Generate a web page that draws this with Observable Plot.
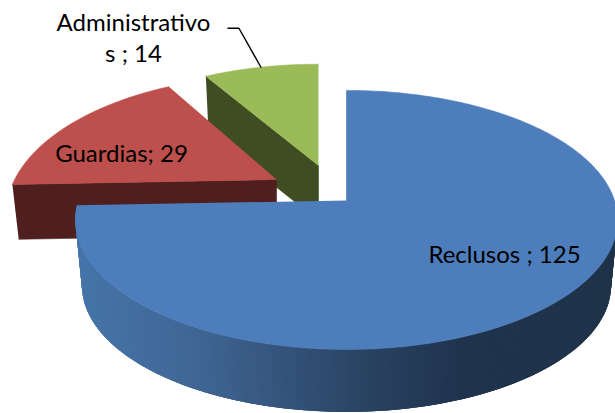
<!DOCTYPE html>
<html><head><meta charset="utf-8">
<script src="https://cdn.jsdelivr.net/npm/d3@7"></script>
<script src="https://cdn.jsdelivr.net/npm/@observablehq/plot@0.6"></script>
<style>html,body{margin:0;padding:0;background:#fff}svg{display:block}</style>
</head><body><div id="chart"></div>
<script>
const categories = ["Reclusos", "Guardias", "Administrativos"];
const values = [125, 29, 14];
const labels = ["Reclusos ; 125", "Guardias; 29", "Administrativo\ns ; 14"];
const topColors = ["#4d7ebb", "#bd4f4c", "#9bbb59"];
const sideColors = ["#2b4565", "#4f1f1f", "#3f4d22"];

// layout of the exploded slices (px): pivot of each slice, its size, label offset
const pivotX = [346, 276, 318];
const pivotY = [200, 179, 165];
const scaleX = [1, 0.977, 0.95];
const scaleY = [1, 1.03, 0.92];
const persp = [0.15, 0.25, 0.15];
const depth = [66, 55, 55];
const labelDX = [158, -155, -185];
const labelDY = [53, -27, -129];
const radiusX = 268, radiusY = 126.6, depthScale = 0.976;

const arcs = d3.pie().sort(null)(values);

function rim(i, a, lower) {
  const f = lower ? depthScale : 1;
  const w = 1 + persp[i] * Math.cos(a);
  return {
    x: pivotX[i] + f * scaleX[i] * radiusX * Math.sin(a) / w,
    y: pivotY[i] + (lower ? depth[i] : 0) - f * scaleY[i] * radiusY * Math.cos(a) / w
  };
}
function hub(i, lower) {
  return {x: pivotX[i], y: pivotY[i] + (lower ? depth[i] : 0)};
}
function sweep(a0, a1, deg = 1) {
  const n = Math.ceil(Math.abs(a1 - a0) / (deg * Math.PI / 180));
  return d3.range(n + 1).map(k => a0 + (a1 - a0) * k / n);
}
const topFace = i => [hub(i), ...sweep(arcs[i].startAngle, arcs[i].endAngle).map(a => rim(i, a))]
  .map(p => ({...p, c: topColors[i]}));

// cut face of a slice, on the radius where it starts
const cutFace = i => {
  const a = arcs[i].startAngle;
  return [rim(i, a), hub(i), hub(i, true), rim(i, a, true)].map(p => ({...p, c: sideColors[i]}));
};

// rounded front wall of the big slice, shaded from left to right
const shade = d3.scaleLinear()
  .domain([80, 200, 350, 460, 615])
  .range(["#4675a9", "#3f6593", "#2b4565", "#1f334d", "#1f3349"]);
const wall = [];
const steps = sweep(Math.PI / 2, arcs[0].endAngle, 0.5);
steps.slice(3).forEach((a, k) => {
  const b = steps[k];
  const quad = [rim(0, b), rim(0, a), rim(0, a, true), rim(0, b, true)];
  const c = shade(d3.mean(quad, p => p.x));
  quad.forEach(p => wall.push({...p, c, id: "w" + k}));
});

const poly = pts => Plot.line(pts, {x: "x", y: "y", fill: "c", stroke: "c", strokeWidth: 0.6});

// leader from the small slice's rim to its label
const leaderAngle = arcs[2].startAngle * 0.5 + arcs[2].endAngle * 0.5;
const tip = rim(2, leaderAngle);
const leader = [tip, {x: tip.x - 22, y: tip.y - 39}, {x: tip.x - 33, y: tip.y - 39}];

const labelData = labels.map((t, i) => ({t, x: pivotX[i] + labelDX[i], y: pivotY[i] + labelDY[i]}));

const chart = Plot.plot({
  width: 615, height: 413,
  margin: 0,
  x: {domain: [0, 615], range: [0, 615], axis: null},
  y: {domain: [0, 413], range: [0, 413], axis: null},
  color: {type: "identity"},
  style: {background: "#fff"},
  marks: [
    poly(cutFace(2)),
    poly(topFace(2)),
    poly(cutFace(1)),
    poly(topFace(1)),
    Plot.line(wall, {x: "x", y: "y", z: "id", fill: "c", stroke: "none"}),
    poly(topFace(0)),
    Plot.line(leader, {x: "x", y: "y", stroke: "#000", strokeWidth: 1.4}),
    Plot.text(labelData, {
      x: "x", y: "y", text: "t", fill: "#000",
      fontFamily: "Lato", fontSize: 24, lineHeight: 1.3, lineAnchor: "middle"
    })
  ]
});
document.getElementById("chart").appendChild(chart);
</script></body></html>
